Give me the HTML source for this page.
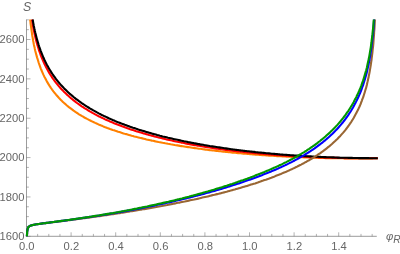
<!DOCTYPE html>
<html lang="en"><head><meta charset="utf-8"><title>S vs phi_R</title>
<style>html,body{margin:0;padding:0;background:#fff;}body{width:400px;height:254px;overflow:hidden;font-family:"Liberation Sans",sans-serif;}svg text{font-family:"Liberation Sans",sans-serif;}</style></head>
<body>
<svg width="400" height="254" viewBox="0 0 400 254" style="display:block;will-change:transform;opacity:0.999">
<rect width="400" height="254" fill="#fff"/>
<path d="M26.50 19.50 L26.50 236.30M26.50 236.30 L376.79 236.30" fill="none" stroke="#666666" stroke-width="0.65"/>
<path d="M26.50 236.30 L26.50 232.30M37.65 236.30 L37.65 233.90M48.80 236.30 L48.80 233.90M59.95 236.30 L59.95 233.90M71.10 236.30 L71.10 232.30M82.25 236.30 L82.25 233.90M93.40 236.30 L93.40 233.90M104.55 236.30 L104.55 233.90M115.70 236.30 L115.70 232.30M126.85 236.30 L126.85 233.90M138.00 236.30 L138.00 233.90M149.15 236.30 L149.15 233.90M160.30 236.30 L160.30 232.30M171.45 236.30 L171.45 233.90M182.60 236.30 L182.60 233.90M193.75 236.30 L193.75 233.90M204.90 236.30 L204.90 232.30M216.05 236.30 L216.05 233.90M227.20 236.30 L227.20 233.90M238.35 236.30 L238.35 233.90M249.50 236.30 L249.50 232.30M260.65 236.30 L260.65 233.90M271.80 236.30 L271.80 233.90M282.95 236.30 L282.95 233.90M294.10 236.30 L294.10 232.30M305.25 236.30 L305.25 233.90M316.40 236.30 L316.40 233.90M327.55 236.30 L327.55 233.90M338.70 236.30 L338.70 232.30M349.85 236.30 L349.85 233.90M361.00 236.30 L361.00 233.90M372.15 236.30 L372.15 233.90M26.50 236.30 L30.50 236.30M26.50 226.46 L28.90 226.46M26.50 216.62 L28.90 216.62M26.50 206.78 L28.90 206.78M26.50 196.94 L30.50 196.94M26.50 187.10 L28.90 187.10M26.50 177.26 L28.90 177.26M26.50 167.42 L28.90 167.42M26.50 157.58 L30.50 157.58M26.50 147.74 L28.90 147.74M26.50 137.90 L28.90 137.90M26.50 128.06 L28.90 128.06M26.50 118.22 L30.50 118.22M26.50 108.38 L28.90 108.38M26.50 98.54 L28.90 98.54M26.50 88.70 L28.90 88.70M26.50 78.86 L30.50 78.86M26.50 69.02 L28.90 69.02M26.50 59.18 L28.90 59.18M26.50 49.34 L28.90 49.34M26.50 39.50 L30.50 39.50M26.50 29.66 L28.90 29.66M26.50 19.82 L28.90 19.82" fill="none" stroke="#666666" stroke-width="0.50"/>
<path d="M30.2 19.5 L30.2 20.2 L30.5 22.2 L30.5 22.7 L30.7 24.3 L31.0 26.4 L31.3 28.6 L31.6 30.8 L31.9 32.9 L32.2 35.2 L32.6 37.4 L33.0 39.7 L33.2 41.0 L33.4 41.9 L33.8 44.2 L34.3 46.4 L34.6 47.6 L34.8 48.7 L35.3 50.9 L35.9 53.2 L36.5 55.4 L37.1 57.6 L37.3 58.2 L37.8 59.8 L38.5 62.0 L38.6 62.5 L39.2 64.2 L40.0 66.3 L40.8 68.6 L41.3 69.8 L41.7 70.7 L42.6 72.8 L43.5 74.9 L44.0 75.9 L44.5 77.0 L45.4 78.6 L45.6 79.1 L46.7 81.1 L47.9 83.1 L48.0 83.4 L49.1 85.1 L49.4 85.6 L50.4 87.1 L50.7 87.6 L51.7 89.0 L52.1 89.6 L53.1 91.0 L53.4 91.4 L54.6 92.9 L54.8 93.1 L56.1 94.7 L57.5 96.3 L58.8 97.8 L60.2 99.2 L61.5 100.6 L62.9 101.9 L64.2 103.1 L65.6 104.3 L66.9 105.5 L68.3 106.6 L69.6 107.7 L71.0 108.7 L72.3 109.7 L73.6 110.7 L75.0 111.6 L76.3 112.5 L77.7 113.4 L79.0 114.3 L80.4 115.1 L81.7 115.9 L83.1 116.7 L84.4 117.5 L85.8 118.2 L87.1 118.9 L88.5 119.6 L89.8 120.3 L91.2 121.0 L92.5 121.6 L93.9 122.3 L95.2 122.9 L96.6 123.5 L97.9 124.1 L99.2 124.7 L100.6 125.3 L101.9 125.8 L103.3 126.4 L104.6 126.9 L106.0 127.4 L107.3 127.9 L108.7 128.4 L110.0 128.9 L111.4 129.4 L112.7 129.9 L114.1 130.3 L115.4 130.8 L116.8 131.2 L118.1 131.7 L119.5 132.1 L120.8 132.5 L122.1 132.9 L123.5 133.4 L124.8 133.8 L126.2 134.1 L127.5 134.5 L128.9 134.9 L130.2 135.3 L131.6 135.7 L132.9 136.0 L134.3 136.4 L135.6 136.7 L137.0 137.1 L138.3 137.4 L139.7 137.8 L141.0 138.1 L142.4 138.4 L143.7 138.7 L145.1 139.0 L146.4 139.4 L147.7 139.7 L149.1 140.0 L150.4 140.3 L151.8 140.6 L153.1 140.8 L154.5 141.1 L155.8 141.4 L157.2 141.7 L158.5 142.0 L159.9 142.2 L161.2 142.5 L162.6 142.8 L163.9 143.0 L165.3 143.3 L166.6 143.5 L168.0 143.8 L169.3 144.0 L170.7 144.3 L172.0 144.5 L173.3 144.7 L174.7 145.0 L176.0 145.2 L177.4 145.4 L178.7 145.6 L180.1 145.9 L181.4 146.1 L182.8 146.3 L184.1 146.5 L185.5 146.7 L186.8 146.9 L188.2 147.1 L189.5 147.3 L190.9 147.5 L192.2 147.7 L193.6 147.9 L194.9 148.1 L196.2 148.3 L197.6 148.5 L198.9 148.7 L200.3 148.8 L201.6 149.0 L203.0 149.2 L204.3 149.4 L205.7 149.6 L207.0 149.7 L208.4 149.9 L209.7 150.1 L211.1 150.2 L212.4 150.4 L213.8 150.5 L215.1 150.7 L216.5 150.9 L217.8 151.0 L219.2 151.2 L220.5 151.3 L221.8 151.5 L223.2 151.6 L224.5 151.8 L225.9 151.9 L227.2 152.0 L228.6 152.2 L229.9 152.3 L231.3 152.4 L232.6 152.6 L234.0 152.7 L235.3 152.8 L236.7 153.0 L238.0 153.1 L239.4 153.2 L240.7 153.3 L242.1 153.5 L243.4 153.6 L244.8 153.7 L246.1 153.8 L247.4 153.9 L248.8 154.0 L250.1 154.2 L251.5 154.3 L252.8 154.4 L254.2 154.5 L255.5 154.6 L256.9 154.7 L258.2 154.8 L259.6 154.9 L260.9 155.0 L262.3 155.1 L263.6 155.2 L265.0 155.3 L266.3 155.4 L267.7 155.5 L269.0 155.6 L270.4 155.6 L271.7 155.7 L273.0 155.8 L274.4 155.9 L275.7 156.0 L277.1 156.1 L278.4 156.1 L279.8 156.2 L281.1 156.3 L282.5 156.4 L283.8 156.4 L285.2 156.5 L286.5 156.6 L287.9 156.7 L289.2 156.7 L290.6 156.8 L291.9 156.9 L293.3 156.9 L294.6 157.0 L295.9 157.0 L297.3 157.1 L298.6 157.2 L300.0 157.2 L301.3 157.3 L302.7 157.3 L304.0 157.4 L305.4 157.4 L306.7 157.5 L308.1 157.5 L309.4 157.6 L310.8 157.6 L312.1 157.7 L313.5 157.7 L314.8 157.8 L316.2 157.8 L317.5 157.8 L318.9 157.9 L320.2 157.9 L321.5 158.0 L322.9 158.0 L324.2 158.0 L325.6 158.1 L326.9 158.1 L328.3 158.1 L329.6 158.1 L331.0 158.2 L332.3 158.2 L333.7 158.2 L335.0 158.2 L336.4 158.3 L337.7 158.3 L339.1 158.3 L340.4 158.3 L341.8 158.3 L343.1 158.3 L344.5 158.4 L345.8 158.4 L347.1 158.4 L348.5 158.4 L349.8 158.4 L351.2 158.4 L351.5 158.4 L352.5 158.4 L352.9 158.4 L353.9 158.4 L354.2 158.4 L355.2 158.4 L356.6 158.4 L357.9 158.4 L359.0 158.4 L360.1 158.4 L360.6 158.4 L361.1 158.4 L362.0 158.4 L363.0 158.4 L363.3 158.4 L363.8 158.4 L364.6 158.4 L365.4 158.4 L366.0 158.4 L366.9 158.4 L367.4 158.4 L368.1 158.4 L368.7 158.4 L369.3 158.4 L369.8 158.4 L370.3 158.4 L370.8 158.4 L371.2 158.4 L371.6 158.4 L372.0 158.4 L372.4 158.4 L372.7 158.3 L373.1 158.3 L373.4 158.3 L373.9 158.3 L374.4 158.3 L374.8 158.3 L375.1 158.3 L375.4 158.3 L375.8 158.3 L376.2 158.3 L376.8 158.3 L377.8 158.3" fill="none" stroke="#ff8000" stroke-width="2.10" stroke-linejoin="round" stroke-linecap="butt"/>
<path d="M32.0 19.5 L32.2 21.1 L32.6 23.4 L33.0 25.7 L33.2 27.0 L33.4 28.0 L33.8 30.2 L34.3 32.5 L34.6 33.8 L34.8 34.8 L35.3 37.1 L35.9 39.4 L36.5 41.7 L37.1 44.0 L37.3 44.6 L37.8 46.3 L38.5 48.5 L38.6 49.0 L39.2 50.8 L40.0 53.0 L40.8 55.3 L41.3 56.6 L41.7 57.5 L42.6 59.7 L43.5 61.9 L44.0 62.9 L44.5 64.1 L45.4 65.7 L45.6 66.2 L46.7 68.3 L47.9 70.5 L48.0 70.8 L49.1 72.6 L49.4 73.1 L50.4 74.7 L50.7 75.2 L51.7 76.7 L52.1 77.3 L53.1 78.8 L53.4 79.2 L54.6 80.8 L54.8 81.1 L56.1 82.9 L57.5 84.5 L58.8 86.1 L60.2 87.7 L61.5 89.2 L62.9 90.6 L64.2 92.0 L65.6 93.3 L66.9 94.6 L68.3 95.8 L69.6 97.0 L71.0 98.2 L72.3 99.3 L73.6 100.4 L75.0 101.4 L76.3 102.5 L77.7 103.5 L79.0 104.4 L80.4 105.4 L81.7 106.3 L83.1 107.2 L84.4 108.1 L85.8 108.9 L87.1 109.7 L88.5 110.6 L89.8 111.4 L91.2 112.1 L92.5 112.9 L93.9 113.6 L95.2 114.4 L96.6 115.1 L97.9 115.8 L99.2 116.5 L100.6 117.1 L101.9 117.8 L103.3 118.4 L104.6 119.1 L106.0 119.7 L107.3 120.3 L108.7 120.9 L110.0 121.5 L111.4 122.1 L112.7 122.6 L114.1 123.2 L115.4 123.7 L116.8 124.3 L118.1 124.8 L119.5 125.3 L120.8 125.8 L122.1 126.3 L123.5 126.8 L124.8 127.3 L126.2 127.8 L127.5 128.3 L128.9 128.7 L130.2 129.2 L131.6 129.7 L132.9 130.1 L134.3 130.5 L135.6 131.0 L137.0 131.4 L138.3 131.8 L139.7 132.2 L141.0 132.6 L142.4 133.0 L143.7 133.4 L145.1 133.8 L146.4 134.2 L147.7 134.6 L149.1 135.0 L150.4 135.3 L151.8 135.7 L153.1 136.0 L154.5 136.4 L155.8 136.7 L157.2 137.1 L158.5 137.4 L159.9 137.8 L161.2 138.1 L162.6 138.4 L163.9 138.7 L165.3 139.1 L166.6 139.4 L168.0 139.7 L169.3 140.0 L170.7 140.3 L172.0 140.6 L173.3 140.9 L174.7 141.2 L176.0 141.5 L177.4 141.7 L178.7 142.0 L180.1 142.3 L181.4 142.6 L182.8 142.8 L184.1 143.1 L185.5 143.4 L186.8 143.6 L188.2 143.9 L189.5 144.1 L190.9 144.4 L192.2 144.6 L193.6 144.9 L194.9 145.1 L196.2 145.3 L197.6 145.6 L198.9 145.8 L200.3 146.0 L201.6 146.3 L203.0 146.5 L204.3 146.7 L205.7 146.9 L207.0 147.1 L208.4 147.3 L209.7 147.5 L211.1 147.8 L212.4 148.0 L213.8 148.2 L215.1 148.4 L216.5 148.6 L217.8 148.7 L219.2 148.9 L220.5 149.1 L221.8 149.3 L223.2 149.5 L224.5 149.7 L225.9 149.9 L227.2 150.0 L228.6 150.2 L229.9 150.4 L231.3 150.5 L232.6 150.7 L234.0 150.9 L235.3 151.0 L236.7 151.2 L238.0 151.4 L239.4 151.5 L240.7 151.7 L242.1 151.8 L243.4 152.0 L244.8 152.1 L246.1 152.3 L247.4 152.4 L248.8 152.5 L250.1 152.7 L251.5 152.8 L252.8 153.0 L254.2 153.1 L255.5 153.2 L256.9 153.3 L258.2 153.5 L259.6 153.6 L260.9 153.7 L262.3 153.8 L263.6 154.0 L265.0 154.1 L266.3 154.2 L267.7 154.3 L269.0 154.4 L270.4 154.5 L271.7 154.6 L273.0 154.8 L274.4 154.9 L275.7 155.0 L277.1 155.1 L278.4 155.2 L279.8 155.3 L281.1 155.4 L282.5 155.5 L283.8 155.5 L285.2 155.6 L286.5 155.7 L287.9 155.8 L289.2 155.9 L290.6 156.0 L291.9 156.1 L293.3 156.1 L294.6 156.2 L295.9 156.3 L297.3 156.4 L298.6 156.5 L300.0 156.5 L301.3 156.6 L302.7 156.7 L304.0 156.7 L305.4 156.8 L306.7 156.9 L308.1 156.9 L309.4 157.0 L310.8 157.1 L312.1 157.1 L313.5 157.2 L314.8 157.2 L316.2 157.3 L317.5 157.3 L318.9 157.4 L320.2 157.4 L321.5 157.5 L322.9 157.5 L324.2 157.6 L325.6 157.6 L326.9 157.7 L328.3 157.7 L329.6 157.7 L331.0 157.8 L332.3 157.8 L333.7 157.8 L335.0 157.9 L336.4 157.9 L337.7 157.9 L339.1 158.0 L340.4 158.0 L341.8 158.0 L343.1 158.0 L344.5 158.1 L345.8 158.1 L347.1 158.1 L348.5 158.1 L349.8 158.1 L351.2 158.2 L351.5 158.2 L352.5 158.2 L352.9 158.2 L353.9 158.2 L354.2 158.2 L355.2 158.2 L356.6 158.2 L357.9 158.2 L359.0 158.2 L360.1 158.2 L360.6 158.2 L361.1 158.2 L362.0 158.2 L363.0 158.2 L363.3 158.2 L363.8 158.2 L364.6 158.2 L365.4 158.2 L366.0 158.2 L366.9 158.2 L367.4 158.2 L368.1 158.2 L368.7 158.2 L369.3 158.2 L369.8 158.2 L370.3 158.2 L370.8 158.2 L371.2 158.2 L371.6 158.2 L372.0 158.2 L372.4 158.2 L372.7 158.2 L373.1 158.2 L373.4 158.2 L373.9 158.2 L374.4 158.2 L374.8 158.2 L375.1 158.2 L375.4 158.2 L375.8 158.2 L376.2 158.2 L376.8 158.2 L377.8 158.2" fill="none" stroke="#ff0000" stroke-width="2.10" stroke-linejoin="round" stroke-linecap="butt"/>
<path d="M32.7 19.5 L33.0 21.3 L33.2 22.6 L33.4 23.6 L33.8 25.9 L34.3 28.2 L34.6 29.4 L34.8 30.5 L35.3 32.8 L35.9 35.1 L36.5 37.4 L37.1 39.7 L37.3 40.3 L37.8 42.0 L38.5 44.3 L38.6 44.8 L39.2 46.6 L40.0 48.8 L40.8 51.1 L41.3 52.4 L41.7 53.4 L42.6 55.6 L43.5 57.8 L44.0 58.8 L44.5 60.0 L45.4 61.7 L45.6 62.2 L46.7 64.4 L47.9 66.5 L48.0 66.8 L49.1 68.7 L49.4 69.2 L50.4 70.8 L50.7 71.4 L51.7 72.9 L52.1 73.5 L53.1 75.0 L53.4 75.4 L54.6 77.1 L54.8 77.3 L56.1 79.1 L57.5 80.8 L58.8 82.5 L60.2 84.1 L61.5 85.6 L62.9 87.0 L64.2 88.4 L65.6 89.8 L66.9 91.1 L68.3 92.4 L69.6 93.6 L71.0 94.8 L72.3 95.9 L73.6 97.0 L75.0 98.1 L76.3 99.2 L77.7 100.2 L79.0 101.2 L80.4 102.2 L81.7 103.1 L83.1 104.0 L84.4 104.9 L85.8 105.8 L87.1 106.7 L88.5 107.5 L89.8 108.3 L91.2 109.1 L92.5 109.9 L93.9 110.7 L95.2 111.4 L96.6 112.2 L97.9 112.9 L99.2 113.6 L100.6 114.3 L101.9 115.0 L103.3 115.6 L104.6 116.3 L106.0 116.9 L107.3 117.5 L108.7 118.2 L110.0 118.8 L111.4 119.4 L112.7 120.0 L114.1 120.5 L115.4 121.1 L116.8 121.7 L118.1 122.2 L119.5 122.7 L120.8 123.3 L122.1 123.8 L123.5 124.3 L124.8 124.8 L126.2 125.3 L127.5 125.8 L128.9 126.3 L130.2 126.8 L131.6 127.2 L132.9 127.7 L134.3 128.1 L135.6 128.6 L137.0 129.0 L138.3 129.5 L139.7 129.9 L141.0 130.3 L142.4 130.7 L143.7 131.1 L145.1 131.5 L146.4 131.9 L147.7 132.3 L149.1 132.7 L150.4 133.1 L151.8 133.5 L153.1 133.9 L154.5 134.2 L155.8 134.6 L157.2 135.0 L158.5 135.3 L159.9 135.7 L161.2 136.0 L162.6 136.4 L163.9 136.7 L165.3 137.0 L166.6 137.3 L168.0 137.7 L169.3 138.0 L170.7 138.3 L172.0 138.6 L173.3 138.9 L174.7 139.2 L176.0 139.5 L177.4 139.8 L178.7 140.1 L180.1 140.4 L181.4 140.7 L182.8 141.0 L184.1 141.3 L185.5 141.5 L186.8 141.8 L188.2 142.1 L189.5 142.3 L190.9 142.6 L192.2 142.9 L193.6 143.1 L194.9 143.4 L196.2 143.6 L197.6 143.9 L198.9 144.1 L200.3 144.4 L201.6 144.6 L203.0 144.8 L204.3 145.1 L205.7 145.3 L207.0 145.5 L208.4 145.7 L209.7 146.0 L211.1 146.2 L212.4 146.4 L213.8 146.6 L215.1 146.8 L216.5 147.0 L217.8 147.2 L219.2 147.4 L220.5 147.6 L221.8 147.8 L223.2 148.0 L224.5 148.2 L225.9 148.4 L227.2 148.6 L228.6 148.8 L229.9 149.0 L231.3 149.2 L232.6 149.4 L234.0 149.5 L235.3 149.7 L236.7 149.9 L238.0 150.0 L239.4 150.2 L240.7 150.4 L242.1 150.5 L243.4 150.7 L244.8 150.9 L246.1 151.0 L247.4 151.2 L248.8 151.3 L250.1 151.5 L251.5 151.6 L252.8 151.8 L254.2 151.9 L255.5 152.1 L256.9 152.2 L258.2 152.4 L259.6 152.5 L260.9 152.6 L262.3 152.8 L263.6 152.9 L265.0 153.0 L266.3 153.2 L267.7 153.3 L269.0 153.4 L270.4 153.5 L271.7 153.7 L273.0 153.8 L274.4 153.9 L275.7 154.0 L277.1 154.1 L278.4 154.2 L279.8 154.4 L281.1 154.5 L282.5 154.6 L283.8 154.7 L285.2 154.8 L286.5 154.9 L287.9 155.0 L289.2 155.1 L290.6 155.2 L291.9 155.3 L293.3 155.4 L294.6 155.5 L295.9 155.6 L297.3 155.6 L298.6 155.7 L300.0 155.8 L301.3 155.9 L302.7 156.0 L304.0 156.1 L305.4 156.1 L306.7 156.2 L308.1 156.3 L309.4 156.4 L310.8 156.4 L312.1 156.5 L313.5 156.6 L314.8 156.7 L316.2 156.7 L317.5 156.8 L318.9 156.8 L320.2 156.9 L321.5 157.0 L322.9 157.0 L324.2 157.1 L325.6 157.1 L326.9 157.2 L328.3 157.2 L329.6 157.3 L331.0 157.3 L332.3 157.4 L333.7 157.4 L335.0 157.5 L336.4 157.5 L337.7 157.6 L339.1 157.6 L340.4 157.7 L341.8 157.7 L343.1 157.7 L344.5 157.8 L345.8 157.8 L347.1 157.8 L348.5 157.9 L349.8 157.9 L351.2 157.9 L351.5 157.9 L352.5 157.9 L352.9 158.0 L353.9 158.0 L354.2 158.0 L355.2 158.0 L356.6 158.0 L357.9 158.0 L359.0 158.1 L360.1 158.1 L360.6 158.1 L361.1 158.1 L362.0 158.1 L363.0 158.1 L363.3 158.1 L363.8 158.1 L364.6 158.1 L365.4 158.1 L366.0 158.1 L366.9 158.1 L367.4 158.1 L368.1 158.1 L368.7 158.1 L369.3 158.2 L369.8 158.2 L370.3 158.2 L370.8 158.2 L371.2 158.2 L371.6 158.2 L372.0 158.2 L372.4 158.2 L372.7 158.2 L373.1 158.2 L373.4 158.2 L373.9 158.2 L374.4 158.2 L374.8 158.2 L375.1 158.2 L375.4 158.2 L375.8 158.2 L376.2 158.2 L376.8 158.2 L377.8 158.2" fill="none" stroke="#000000" stroke-width="2.10" stroke-linejoin="round" stroke-linecap="butt"/>
<path d="M26.9 236.3 L26.9 235.9 L27.0 234.6 L27.1 233.5 L27.1 232.5 L27.2 231.6 L27.3 230.9 L27.4 230.2 L27.5 229.7 L27.6 229.2 L27.7 228.7 L27.9 228.3 L28.0 227.9 L28.2 227.6 L28.3 227.3 L28.5 227.1 L28.7 226.8 L28.9 226.6 L29.1 226.4 L29.4 226.3 L29.6 226.1 L29.9 225.9 L30.2 225.8 L30.5 225.7 L30.9 225.5 L31.3 225.4 L31.6 225.3 L31.9 225.2 L32.5 225.1 L33.0 225.0 L33.3 224.9 L34.0 224.7 L34.6 224.6 L35.1 224.5 L35.8 224.4 L36.4 224.3 L37.1 224.2 L37.9 224.1 L38.7 224.0 L39.5 223.9 L40.0 223.8 L40.3 223.8 L41.2 223.6 L42.2 223.5 L42.7 223.4 L43.2 223.4 L44.1 223.3 L45.4 223.1 L46.5 223.0 L47.8 222.8 L48.1 222.8 L49.0 222.6 L49.5 222.6 L50.4 222.5 L50.8 222.4 L51.8 222.3 L52.2 222.3 L53.3 222.1 L53.6 222.1 L54.9 221.9 L56.3 221.8 L57.6 221.6 L59.0 221.4 L60.3 221.3 L61.7 221.1 L63.0 220.9 L64.4 220.7 L65.7 220.6 L67.1 220.4 L68.4 220.2 L69.8 220.1 L71.1 219.9 L72.5 219.7 L73.8 219.5 L75.2 219.4 L76.5 219.2 L77.9 219.0 L79.2 218.8 L80.6 218.7 L82.0 218.5 L83.3 218.3 L84.7 218.1 L86.0 217.9 L87.4 217.8 L88.7 217.6 L90.1 217.4 L91.4 217.2 L92.8 217.0 L94.1 216.8 L95.5 216.6 L96.8 216.4 L98.2 216.3 L99.5 216.1 L100.9 215.9 L102.2 215.7 L103.6 215.5 L104.9 215.3 L106.3 215.1 L107.6 214.9 L109.0 214.7 L110.4 214.5 L111.7 214.3 L113.1 214.1 L114.4 213.9 L115.8 213.7 L117.1 213.5 L118.5 213.3 L119.8 213.1 L121.2 212.8 L122.5 212.6 L123.9 212.4 L125.2 212.2 L126.6 212.0 L127.9 211.8 L129.3 211.6 L130.6 211.3 L132.0 211.1 L133.3 210.9 L134.7 210.7 L136.1 210.5 L137.4 210.2 L138.8 210.0 L140.1 209.8 L141.5 209.6 L142.8 209.3 L144.2 209.1 L145.5 208.9 L146.9 208.6 L148.2 208.4 L149.6 208.2 L150.9 207.9 L152.3 207.7 L153.6 207.4 L155.0 207.2 L156.3 207.0 L157.7 206.7 L159.0 206.5 L160.4 206.2 L161.7 206.0 L163.1 205.7 L164.5 205.5 L165.8 205.2 L167.2 205.0 L168.5 204.7 L169.9 204.4 L171.2 204.2 L172.6 203.9 L173.9 203.6 L175.3 203.4 L176.6 203.1 L178.0 202.8 L179.3 202.6 L180.7 202.3 L182.0 202.0 L183.4 201.7 L184.7 201.5 L186.1 201.2 L187.4 200.9 L188.8 200.6 L190.1 200.3 L191.5 200.0 L192.9 199.7 L194.2 199.5 L195.6 199.2 L196.9 198.9 L198.3 198.6 L199.6 198.3 L201.0 197.9 L202.3 197.6 L203.7 197.3 L205.0 197.0 L206.4 196.7 L207.7 196.4 L209.1 196.1 L210.4 195.7 L211.8 195.4 L213.1 195.1 L214.5 194.8 L215.8 194.4 L217.2 194.1 L218.6 193.8 L219.9 193.4 L221.3 193.1 L222.6 192.7 L224.0 192.4 L225.3 192.0 L226.7 191.7 L228.0 191.3 L229.4 190.9 L230.7 190.6 L232.1 190.2 L233.4 189.8 L234.8 189.5 L236.1 189.1 L237.5 188.7 L238.8 188.3 L240.2 187.9 L241.5 187.5 L242.9 187.1 L244.2 186.7 L245.6 186.3 L247.0 185.9 L248.3 185.5 L249.7 185.1 L251.0 184.6 L252.4 184.2 L253.7 183.8 L255.1 183.4 L256.4 182.9 L257.8 182.5 L259.1 182.0 L260.5 181.6 L261.8 181.1 L263.2 180.6 L264.5 180.1 L265.9 179.7 L267.2 179.2 L268.6 178.7 L269.9 178.2 L271.3 177.7 L272.6 177.2 L274.0 176.7 L275.4 176.1 L276.7 175.6 L278.1 175.1 L279.4 174.5 L280.8 174.0 L282.1 173.4 L283.5 172.8 L284.8 172.3 L286.2 171.7 L287.5 171.1 L288.9 170.5 L290.2 169.9 L291.6 169.3 L292.9 168.6 L294.3 168.0 L295.6 167.3 L297.0 166.7 L298.3 166.0 L299.7 165.3 L301.1 164.6 L302.4 163.9 L303.8 163.2 L305.1 162.4 L306.5 161.7 L307.8 160.9 L309.2 160.2 L310.5 159.4 L311.9 158.5 L313.2 157.7 L314.6 156.9 L315.9 156.0 L317.3 155.1 L318.6 154.2 L320.0 153.3 L321.3 152.3 L322.7 151.4 L324.0 150.4 L325.4 149.3 L326.7 148.3 L328.1 147.2 L329.5 146.1 L330.8 145.0 L332.2 143.8 L333.5 142.6 L334.9 141.3 L336.2 140.0 L337.6 138.7 L338.9 137.3 L340.3 135.9 L341.6 134.4 L343.0 132.9 L344.3 131.3 L345.7 129.6 L347.0 127.8 L348.4 126.0 L349.7 124.1 L350.0 123.7 L351.1 122.1 L351.5 121.5 L352.4 120.0 L352.9 119.2 L353.8 117.7 L354.2 116.9 L355.1 115.3 L355.5 114.6 L356.5 112.8 L356.7 112.3 L357.9 110.1 L359.0 107.6 L359.2 107.2 L360.1 105.2 L360.6 104.0 L361.1 102.7 L361.9 100.6 L362.0 100.2 L363.0 97.7 L363.3 96.8 L363.8 95.2 L364.6 92.7 L365.4 90.0 L366.0 88.1 L366.2 87.4 L366.9 84.7 L367.3 82.8 L367.5 82.0 L368.1 79.2 L368.7 76.7 L368.7 76.4 L369.3 73.6 L369.8 70.7 L370.0 69.6 L370.3 67.8 L370.8 64.9 L371.2 61.9 L371.4 60.8 L371.6 58.8 L372.0 55.7 L372.4 52.6 L372.7 49.5 L373.1 46.1 L373.4 42.8 L373.6 39.4 L373.9 36.0 L374.1 33.5 L374.1 32.5 L374.4 29.0 L374.6 25.4 L374.8 21.7 L374.9 19.5" fill="none" stroke="#996633" stroke-width="2.10" stroke-linejoin="round" stroke-linecap="butt"/>
<path d="M26.9 236.3 L26.9 235.9 L27.0 234.6 L27.1 233.5 L27.1 232.5 L27.2 231.6 L27.3 230.9 L27.4 230.2 L27.5 229.7 L27.6 229.2 L27.7 228.7 L27.9 228.3 L28.0 227.9 L28.2 227.6 L28.3 227.3 L28.5 227.1 L28.7 226.8 L28.9 226.6 L29.1 226.4 L29.4 226.3 L29.6 226.1 L29.9 225.9 L30.2 225.8 L30.5 225.7 L30.9 225.5 L31.3 225.4 L31.6 225.3 L31.9 225.2 L32.5 225.1 L33.0 224.9 L33.3 224.9 L34.0 224.7 L34.6 224.6 L35.1 224.5 L35.8 224.4 L36.4 224.3 L37.1 224.2 L37.9 224.1 L38.7 224.0 L39.5 223.9 L40.0 223.8 L40.3 223.7 L41.2 223.6 L42.2 223.5 L42.7 223.4 L43.2 223.3 L44.1 223.2 L45.4 223.1 L46.5 222.9 L47.8 222.8 L48.1 222.7 L49.0 222.6 L49.5 222.5 L50.4 222.4 L50.8 222.4 L51.8 222.2 L52.2 222.2 L53.3 222.0 L53.6 222.0 L54.9 221.8 L56.3 221.7 L57.6 221.5 L59.0 221.3 L60.3 221.1 L61.7 220.9 L63.0 220.8 L64.4 220.6 L65.7 220.4 L67.1 220.2 L68.4 220.0 L69.8 219.9 L71.1 219.7 L72.5 219.5 L73.8 219.3 L75.2 219.1 L76.5 218.9 L77.9 218.7 L79.2 218.5 L80.6 218.3 L82.0 218.1 L83.3 217.9 L84.7 217.7 L86.0 217.5 L87.4 217.3 L88.7 217.1 L90.1 216.9 L91.4 216.7 L92.8 216.5 L94.1 216.3 L95.5 216.1 L96.8 215.9 L98.2 215.7 L99.5 215.5 L100.9 215.3 L102.2 215.0 L103.6 214.8 L104.9 214.6 L106.3 214.4 L107.6 214.2 L109.0 213.9 L110.4 213.7 L111.7 213.5 L113.1 213.3 L114.4 213.0 L115.8 212.8 L117.1 212.6 L118.5 212.3 L119.8 212.1 L121.2 211.9 L122.5 211.6 L123.9 211.4 L125.2 211.1 L126.6 210.9 L127.9 210.6 L129.3 210.4 L130.6 210.1 L132.0 209.9 L133.3 209.6 L134.7 209.4 L136.1 209.1 L137.4 208.9 L138.8 208.6 L140.1 208.4 L141.5 208.1 L142.8 207.8 L144.2 207.6 L145.5 207.3 L146.9 207.0 L148.2 206.8 L149.6 206.5 L150.9 206.2 L152.3 205.9 L153.6 205.7 L155.0 205.4 L156.3 205.1 L157.7 204.8 L159.0 204.5 L160.4 204.2 L161.7 203.9 L163.1 203.7 L164.5 203.4 L165.8 203.1 L167.2 202.8 L168.5 202.5 L169.9 202.2 L171.2 201.9 L172.6 201.5 L173.9 201.2 L175.3 200.9 L176.6 200.6 L178.0 200.3 L179.3 200.0 L180.7 199.7 L182.0 199.3 L183.4 199.0 L184.7 198.7 L186.1 198.4 L187.4 198.0 L188.8 197.7 L190.1 197.4 L191.5 197.0 L192.9 196.7 L194.2 196.3 L195.6 196.0 L196.9 195.6 L198.3 195.3 L199.6 194.9 L201.0 194.6 L202.3 194.2 L203.7 193.9 L205.0 193.5 L206.4 193.1 L207.7 192.8 L209.1 192.4 L210.4 192.0 L211.8 191.6 L213.1 191.2 L214.5 190.9 L215.8 190.5 L217.2 190.1 L218.6 189.7 L219.9 189.3 L221.3 188.9 L222.6 188.5 L224.0 188.1 L225.3 187.7 L226.7 187.2 L228.0 186.8 L229.4 186.4 L230.7 186.0 L232.1 185.6 L233.4 185.1 L234.8 184.7 L236.1 184.3 L237.5 183.8 L238.8 183.4 L240.2 182.9 L241.5 182.5 L242.9 182.0 L244.2 181.5 L245.6 181.1 L247.0 180.6 L248.3 180.1 L249.7 179.7 L251.0 179.2 L252.4 178.7 L253.7 178.2 L255.1 177.7 L256.4 177.2 L257.8 176.7 L259.1 176.2 L260.5 175.7 L261.8 175.2 L263.2 174.6 L264.5 174.1 L265.9 173.6 L267.2 173.0 L268.6 172.5 L269.9 171.9 L271.3 171.4 L272.6 170.8 L274.0 170.2 L275.4 169.7 L276.7 169.1 L278.1 168.5 L279.4 167.9 L280.8 167.3 L282.1 166.6 L283.5 166.0 L284.8 165.4 L286.2 164.7 L287.5 164.1 L288.9 163.4 L290.2 162.7 L291.6 162.1 L292.9 161.4 L294.3 160.7 L295.6 159.9 L297.0 159.2 L298.3 158.5 L299.7 157.7 L301.1 156.9 L302.4 156.1 L303.8 155.3 L305.1 154.5 L306.5 153.7 L307.8 152.8 L309.2 152.0 L310.5 151.1 L311.9 150.2 L313.2 149.3 L314.6 148.4 L315.9 147.4 L317.3 146.4 L318.6 145.4 L320.0 144.4 L321.3 143.3 L322.7 142.3 L324.0 141.2 L325.4 140.1 L326.7 138.9 L328.1 137.7 L329.5 136.5 L330.8 135.3 L332.2 134.0 L333.5 132.7 L334.9 131.3 L336.2 129.9 L337.6 128.5 L338.9 127.0 L340.3 125.4 L341.6 123.8 L343.0 122.2 L344.3 120.5 L345.7 118.7 L347.0 116.8 L348.4 114.9 L349.7 112.8 L350.0 112.4 L351.1 110.7 L351.5 110.0 L352.4 108.5 L352.9 107.7 L353.8 106.1 L354.2 105.3 L355.1 103.6 L355.5 102.9 L356.5 100.9 L356.7 100.4 L357.9 98.1 L359.0 95.5 L359.2 95.1 L360.1 93.0 L360.6 91.8 L361.1 90.5 L361.9 88.3 L362.0 87.9 L363.0 85.4 L363.3 84.4 L363.8 82.7 L364.6 80.2 L365.4 77.4 L366.0 75.4 L366.2 74.7 L366.9 72.0 L367.3 70.1 L367.5 69.2 L368.1 66.4 L368.7 63.9 L368.7 63.6 L369.3 60.7 L369.8 57.8 L370.0 56.6 L370.3 54.8 L370.8 51.8 L371.2 48.8 L371.4 47.7 L371.6 45.7 L372.0 42.6 L372.4 39.4 L372.7 36.3 L373.1 32.9 L373.4 29.6 L373.6 26.2 L373.9 22.7 L374.1 20.2 L374.1 19.5" fill="none" stroke="#0000ff" stroke-width="2.10" stroke-linejoin="round" stroke-linecap="butt"/>
<path d="M26.9 236.3 L26.9 235.9 L27.0 234.6 L27.1 233.5 L27.1 232.5 L27.2 231.6 L27.3 230.9 L27.4 230.2 L27.5 229.7 L27.6 229.2 L27.7 228.7 L27.9 228.3 L28.0 227.9 L28.2 227.6 L28.3 227.3 L28.5 227.1 L28.7 226.8 L28.9 226.6 L29.1 226.4 L29.4 226.3 L29.6 226.1 L29.9 225.9 L30.2 225.8 L30.5 225.7 L30.9 225.5 L31.3 225.4 L31.6 225.3 L31.9 225.2 L32.5 225.1 L33.0 224.9 L33.3 224.9 L34.0 224.7 L34.6 224.6 L35.1 224.5 L35.8 224.4 L36.4 224.3 L37.1 224.2 L37.9 224.1 L38.7 224.0 L39.5 223.9 L40.0 223.8 L40.3 223.7 L41.2 223.6 L42.2 223.5 L42.7 223.4 L43.2 223.3 L44.1 223.2 L45.4 223.1 L46.5 222.9 L47.8 222.7 L48.1 222.7 L49.0 222.6 L49.5 222.5 L50.4 222.4 L50.8 222.3 L51.8 222.2 L52.2 222.2 L53.3 222.0 L53.6 222.0 L54.9 221.8 L56.3 221.6 L57.6 221.4 L59.0 221.3 L60.3 221.1 L61.7 220.9 L63.0 220.7 L64.4 220.5 L65.7 220.3 L67.1 220.2 L68.4 220.0 L69.8 219.8 L71.1 219.6 L72.5 219.4 L73.8 219.2 L75.2 219.0 L76.5 218.8 L77.9 218.6 L79.2 218.4 L80.6 218.2 L82.0 218.0 L83.3 217.8 L84.7 217.6 L86.0 217.4 L87.4 217.2 L88.7 217.0 L90.1 216.8 L91.4 216.6 L92.8 216.3 L94.1 216.1 L95.5 215.9 L96.8 215.7 L98.2 215.5 L99.5 215.3 L100.9 215.0 L102.2 214.8 L103.6 214.6 L104.9 214.4 L106.3 214.1 L107.6 213.9 L109.0 213.7 L110.4 213.4 L111.7 213.2 L113.1 213.0 L114.4 212.7 L115.8 212.5 L117.1 212.2 L118.5 212.0 L119.8 211.7 L121.2 211.5 L122.5 211.2 L123.9 211.0 L125.2 210.7 L126.6 210.5 L127.9 210.2 L129.3 210.0 L130.6 209.7 L132.0 209.5 L133.3 209.2 L134.7 208.9 L136.1 208.7 L137.4 208.4 L138.8 208.1 L140.1 207.8 L141.5 207.6 L142.8 207.3 L144.2 207.0 L145.5 206.7 L146.9 206.5 L148.2 206.2 L149.6 205.9 L150.9 205.6 L152.3 205.3 L153.6 205.0 L155.0 204.7 L156.3 204.4 L157.7 204.1 L159.0 203.8 L160.4 203.5 L161.7 203.2 L163.1 202.9 L164.5 202.6 L165.8 202.3 L167.2 202.0 L168.5 201.7 L169.9 201.3 L171.2 201.0 L172.6 200.7 L173.9 200.4 L175.3 200.1 L176.6 199.7 L178.0 199.4 L179.3 199.1 L180.7 198.7 L182.0 198.4 L183.4 198.0 L184.7 197.7 L186.1 197.4 L187.4 197.0 L188.8 196.7 L190.1 196.3 L191.5 195.9 L192.9 195.6 L194.2 195.2 L195.6 194.9 L196.9 194.5 L198.3 194.1 L199.6 193.7 L201.0 193.4 L202.3 193.0 L203.7 192.6 L205.0 192.2 L206.4 191.8 L207.7 191.5 L209.1 191.1 L210.4 190.7 L211.8 190.3 L213.1 189.9 L214.5 189.5 L215.8 189.0 L217.2 188.6 L218.6 188.2 L219.9 187.8 L221.3 187.4 L222.6 187.0 L224.0 186.5 L225.3 186.1 L226.7 185.7 L228.0 185.2 L229.4 184.8 L230.7 184.3 L232.1 183.9 L233.4 183.4 L234.8 183.0 L236.1 182.5 L237.5 182.1 L238.8 181.6 L240.2 181.1 L241.5 180.6 L242.9 180.2 L244.2 179.7 L245.6 179.2 L247.0 178.7 L248.3 178.2 L249.7 177.7 L251.0 177.2 L252.4 176.7 L253.7 176.2 L255.1 175.6 L256.4 175.1 L257.8 174.6 L259.1 174.1 L260.5 173.5 L261.8 173.0 L263.2 172.4 L264.5 171.9 L265.9 171.3 L267.2 170.7 L268.6 170.2 L269.9 169.6 L271.3 169.0 L272.6 168.4 L274.0 167.8 L275.4 167.2 L276.7 166.6 L278.1 166.0 L279.4 165.3 L280.8 164.7 L282.1 164.1 L283.5 163.4 L284.8 162.7 L286.2 162.1 L287.5 161.4 L288.9 160.7 L290.2 160.0 L291.6 159.3 L292.9 158.6 L294.3 157.8 L295.6 157.1 L297.0 156.3 L298.3 155.5 L299.7 154.7 L301.1 153.9 L302.4 153.1 L303.8 152.3 L305.1 151.5 L306.5 150.6 L307.8 149.7 L309.2 148.8 L310.5 147.9 L311.9 147.0 L313.2 146.0 L314.6 145.1 L315.9 144.1 L317.3 143.1 L318.6 142.0 L320.0 141.0 L321.3 139.9 L322.7 138.8 L324.0 137.7 L325.4 136.5 L326.7 135.3 L328.1 134.1 L329.5 132.9 L330.8 131.6 L332.2 130.3 L333.5 128.9 L334.9 127.5 L336.2 126.1 L337.6 124.6 L338.9 123.1 L340.3 121.5 L341.6 119.9 L343.0 118.2 L344.3 116.5 L345.7 114.6 L347.0 112.7 L348.4 110.8 L349.7 108.7 L350.0 108.2 L351.1 106.5 L351.5 105.9 L352.4 104.3 L352.9 103.5 L353.8 101.9 L354.2 101.0 L355.1 99.3 L355.5 98.6 L356.5 96.6 L356.7 96.1 L357.9 93.8 L359.0 91.1 L359.2 90.7 L360.1 88.6 L360.6 87.4 L361.1 86.1 L361.9 83.8 L362.0 83.5 L363.0 80.9 L363.3 79.9 L363.8 78.2 L364.6 75.6 L365.4 72.9 L366.0 70.9 L366.2 70.2 L366.9 67.4 L367.3 65.5 L367.5 64.6 L368.1 61.8 L368.7 59.2 L368.7 58.9 L369.3 56.1 L369.8 53.1 L370.0 51.9 L370.3 50.2 L370.8 47.1 L371.2 44.1 L371.4 43.0 L371.6 41.0 L372.0 37.9 L372.4 34.7 L372.7 31.5 L373.1 28.1 L373.4 24.8 L373.6 21.4 L373.8 19.5" fill="none" stroke="#009900" stroke-width="2.10" stroke-linejoin="round" stroke-linecap="butt"/>
<g font-family="Liberation Sans, sans-serif" font-size="11.20px" fill="#666">
<text x="26.80" y="250.00" text-anchor="middle">0.0</text>
<text x="71.40" y="250.00" text-anchor="middle">0.2</text>
<text x="116.00" y="250.00" text-anchor="middle">0.4</text>
<text x="160.60" y="250.00" text-anchor="middle">0.6</text>
<text x="205.20" y="250.00" text-anchor="middle">0.8</text>
<text x="249.80" y="250.00" text-anchor="middle">1.0</text>
<text x="294.40" y="250.00" text-anchor="middle">1.2</text>
<text x="339.00" y="250.00" text-anchor="middle">1.4</text>
<text x="24.50" y="240.20" text-anchor="end">1600</text>
<text x="24.50" y="200.84" text-anchor="end">1800</text>
<text x="24.50" y="161.48" text-anchor="end">2000</text>
<text x="24.50" y="122.12" text-anchor="end">2200</text>
<text x="24.50" y="82.76" text-anchor="end">2400</text>
<text x="24.50" y="43.40" text-anchor="end">2600</text>
<text x="22.90" y="10.70" font-style="italic" font-size="12.30px">S</text>
<text x="386.00" y="240.20" font-style="italic" font-size="11.20px">φ<tspan font-size="10.10px" dy="2.30">R</tspan></text>
</g>
</svg>
</body></html>
